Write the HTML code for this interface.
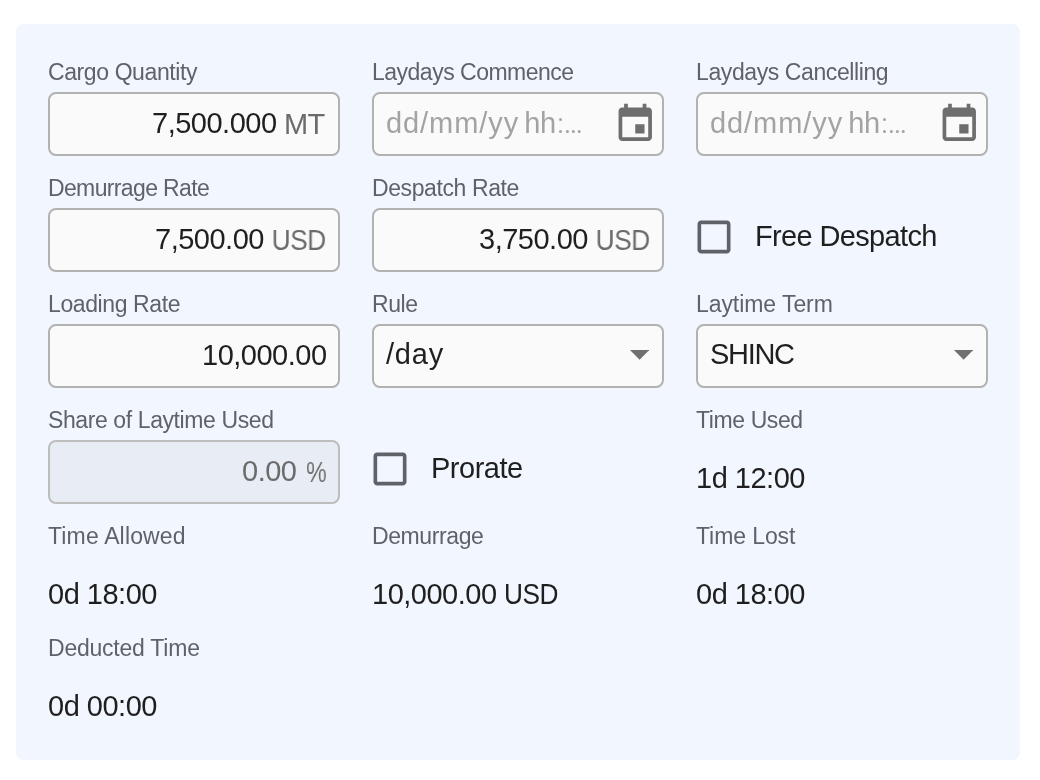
<!DOCTYPE html>
<html><head><meta charset="utf-8">
<style>
*{margin:0;padding:0;box-sizing:border-box}
html,body{width:1040px;height:780px;background:#fff;overflow:hidden}
body{font-family:"Liberation Sans",sans-serif;position:relative}
.lb,.t,.ph,.sv,.val,.cbt{will-change:transform}
.panel{position:absolute;left:16px;top:24px;width:1004px;height:736px;background:#f2f6fe;border-radius:8px}
.lb{position:absolute;font-size:23px;letter-spacing:-0.4px;line-height:24px;color:#5f6368;white-space:nowrap}
.inp{position:absolute;width:292px;height:64px;border:2px solid #b2b2b2;border-radius:8px;background:#fafafa}
.inp .t{position:absolute;right:13px;top:0;line-height:58px;font-size:29px;letter-spacing:-0.5px;color:#1f1f1f;white-space:nowrap}
.inp .u{color:#6b6b6b;top:1px}
.pc{transform:scaleX(0.8);transform-origin:right}
.inp .usd{transform:scaleX(0.905);transform-origin:right}
.inp .mt{letter-spacing:-0.6px}
.inp .ph{position:absolute;left:12px;top:0;line-height:58px;font-size:29px;letter-spacing:-0.5px;color:#a3a3a3;white-space:nowrap}
.inp .sv{position:absolute;left:12px;top:-1px;line-height:58px;font-size:29px;letter-spacing:-0.5px;color:#1f1f1f;white-space:nowrap}
.inp .p1{letter-spacing:0.93px}
.inp .p3{letter-spacing:-1.6px}
.inp .p2{margin-left:-2.4px}
.dis{background:#e8ecf5;border-color:#bdbdbd}
.dis .t{color:#6b6b6b}
.val{position:absolute;font-size:29px;letter-spacing:-0.5px;line-height:32px;color:#1f1f1f;white-space:nowrap}
.cal{position:absolute;width:44px;height:44px}
.arr{position:absolute}
.dots{position:absolute}
.cb{position:absolute;width:44px;height:44px}
.cbt{position:absolute;font-size:29px;letter-spacing:-0.5px;line-height:32px;color:#1f1f1f;white-space:nowrap}
</style></head><body>
<div class="panel"></div>

<!-- Row 1 -->
<div class="lb" style="left:48px;top:60px">Cargo Quantity</div>
<div class="lb" style="left:372px;top:60px;letter-spacing:-0.5px">Laydays Commence</div>
<div class="lb" style="left:696px;top:60px">Laydays Cancelling</div>

<div class="inp" style="left:48px;top:92px"><span class="t" style="right:61.3px">7,500.000</span><span class="t u mt" style="right:13.2px">MT</span></div>
<div class="inp" style="left:372px;top:92px"><span class="ph"><span class="p1">dd/mm/yy</span> <span class="p2">hh</span></span><svg class="dots" viewBox="0 0 40 20" style="left:180px;top:20px;width:40px;height:20px"><g fill="#a3a3a3"><circle cx="6.5" cy="5.5" r="1.5"/><circle cx="6.5" cy="17.5" r="1.5"/><circle cx="13.4" cy="17.5" r="1.5"/><circle cx="19.4" cy="17.5" r="1.5"/><circle cx="25.2" cy="17.5" r="1.5"/></g></svg>
<svg class="cal" style="left:239.4px;top:8.05px;width:44.5px;height:44.5px" viewBox="0 0 24 24"><path fill="#6e6e6e" d="M17 12h-5v5h5v-5zM16 1v2H8V1H6v2H5c-1.11 0-1.99.9-1.99 2L3 19c0 1.1.89 2 2 2h14c1.1 0 2-.9 2-2V5c0-1.1-.9-2-2-2h-1V1h-2zm3 18H5V8h14v11z"/></svg></div>
<div class="inp" style="left:696px;top:92px"><span class="ph"><span class="p1">dd/mm/yy</span> <span class="p2">hh</span></span><svg class="dots" viewBox="0 0 40 20" style="left:180px;top:20px;width:40px;height:20px"><g fill="#a3a3a3"><circle cx="6.5" cy="5.5" r="1.5"/><circle cx="6.5" cy="17.5" r="1.5"/><circle cx="13.4" cy="17.5" r="1.5"/><circle cx="19.4" cy="17.5" r="1.5"/><circle cx="25.2" cy="17.5" r="1.5"/></g></svg>
<svg class="cal" style="left:239.4px;top:8.05px;width:44.5px;height:44.5px" viewBox="0 0 24 24"><path fill="#6e6e6e" d="M17 12h-5v5h5v-5zM16 1v2H8V1H6v2H5c-1.11 0-1.99.9-1.99 2L3 19c0 1.1.89 2 2 2h14c1.1 0 2-.9 2-2V5c0-1.1-.9-2-2-2h-1V1h-2zm3 18H5V8h14v11z"/></svg></div>

<!-- Row 2 -->
<div class="lb" style="left:48px;top:176px;letter-spacing:-0.64px">Demurrage Rate</div>
<div class="lb" style="left:372px;top:176px">Despatch Rate</div>

<div class="inp" style="left:48px;top:208px"><span class="t" style="right:74.4px">7,500.00</span><span class="t u usd" style="right:12px">USD</span></div>
<div class="inp" style="left:372px;top:208px"><span class="t" style="right:74.4px">3,750.00</span><span class="t u usd" style="right:12px">USD</span></div>
<svg class="cb" style="left:692px;top:215px" viewBox="0 0 24 24"><path fill="#5f6368" d="M19 5v14H5V5h14m0-2H5c-1.1 0-2 .9-2 2v14c0 1.1.9 2 2 2h14c1.1 0 2-.9 2-2V5c0-1.1-.9-2-2-2z"/></svg>
<div class="cbt" style="left:755px;top:220px;letter-spacing:-0.65px">Free Despatch</div>

<!-- Row 3 -->
<div class="lb" style="left:48px;top:292px">Loading Rate</div>
<div class="lb" style="left:372px;top:292px">Rule</div>
<div class="lb" style="left:696px;top:292px;letter-spacing:-0.07px">Laytime Term</div>

<div class="inp" style="left:48px;top:324px"><span class="t" style="right:11.9px">10,000.00</span></div>
<div class="inp" style="left:372px;top:324px"><span class="sv" style="letter-spacing:0.8px">/day</span><svg class="arr" viewBox="0 0 19.2 9.7" style="left:255.9px;top:24px;width:19.2px;height:9.7px"><path d="M0 0H19.2L9.6 9.7z" fill="#707070"/></svg></div>
<div class="inp" style="left:696px;top:324px"><span class="sv" style="letter-spacing:-1.3px">SHINC</span><svg class="arr" viewBox="0 0 19.2 9.7" style="left:255.9px;top:24px;width:19.2px;height:9.7px"><path d="M0 0H19.2L9.6 9.7z" fill="#707070"/></svg></div>

<!-- Row 4 -->
<div class="lb" style="left:48px;top:408px">Share of Laytime Used</div>
<div class="lb" style="left:696px;top:408px">Time Used</div>

<div class="inp dis" style="left:48px;top:440px"><span class="t" style="right:41.3px">0.00</span><span class="t u pc" style="right:12px">%</span></div>
<svg class="cb" style="left:368px;top:447px" viewBox="0 0 24 24"><path fill="#5f6368" d="M19 5v14H5V5h14m0-2H5c-1.1 0-2 .9-2 2v14c0 1.1.9 2 2 2h14c1.1 0 2-.9 2-2V5c0-1.1-.9-2-2-2z"/></svg>
<div class="cbt" style="left:431px;top:452px">Prorate</div>
<div class="val" style="left:696px;top:462px">1d 12:00</div>

<!-- Row 5 -->
<div class="lb" style="left:48px;top:524px;letter-spacing:0.15px">Time Allowed</div>
<div class="lb" style="left:372px;top:524px">Demurrage</div>
<div class="lb" style="left:696px;top:524px;letter-spacing:-0.09px">Time Lost</div>
<div class="val" style="left:48px;top:578px">0d 18:00</div>
<div class="val" style="left:372px;top:578px">10,000.00 <span style="display:inline-block;transform:scaleX(0.905);transform-origin:left">USD</span></div>
<div class="val" style="left:696px;top:578px">0d 18:00</div>

<!-- Row 6 -->
<div class="lb" style="left:48px;top:636px;letter-spacing:-0.23px">Deducted Time</div>
<div class="val" style="left:48px;top:690px">0d 00:00</div>
</body></html>
